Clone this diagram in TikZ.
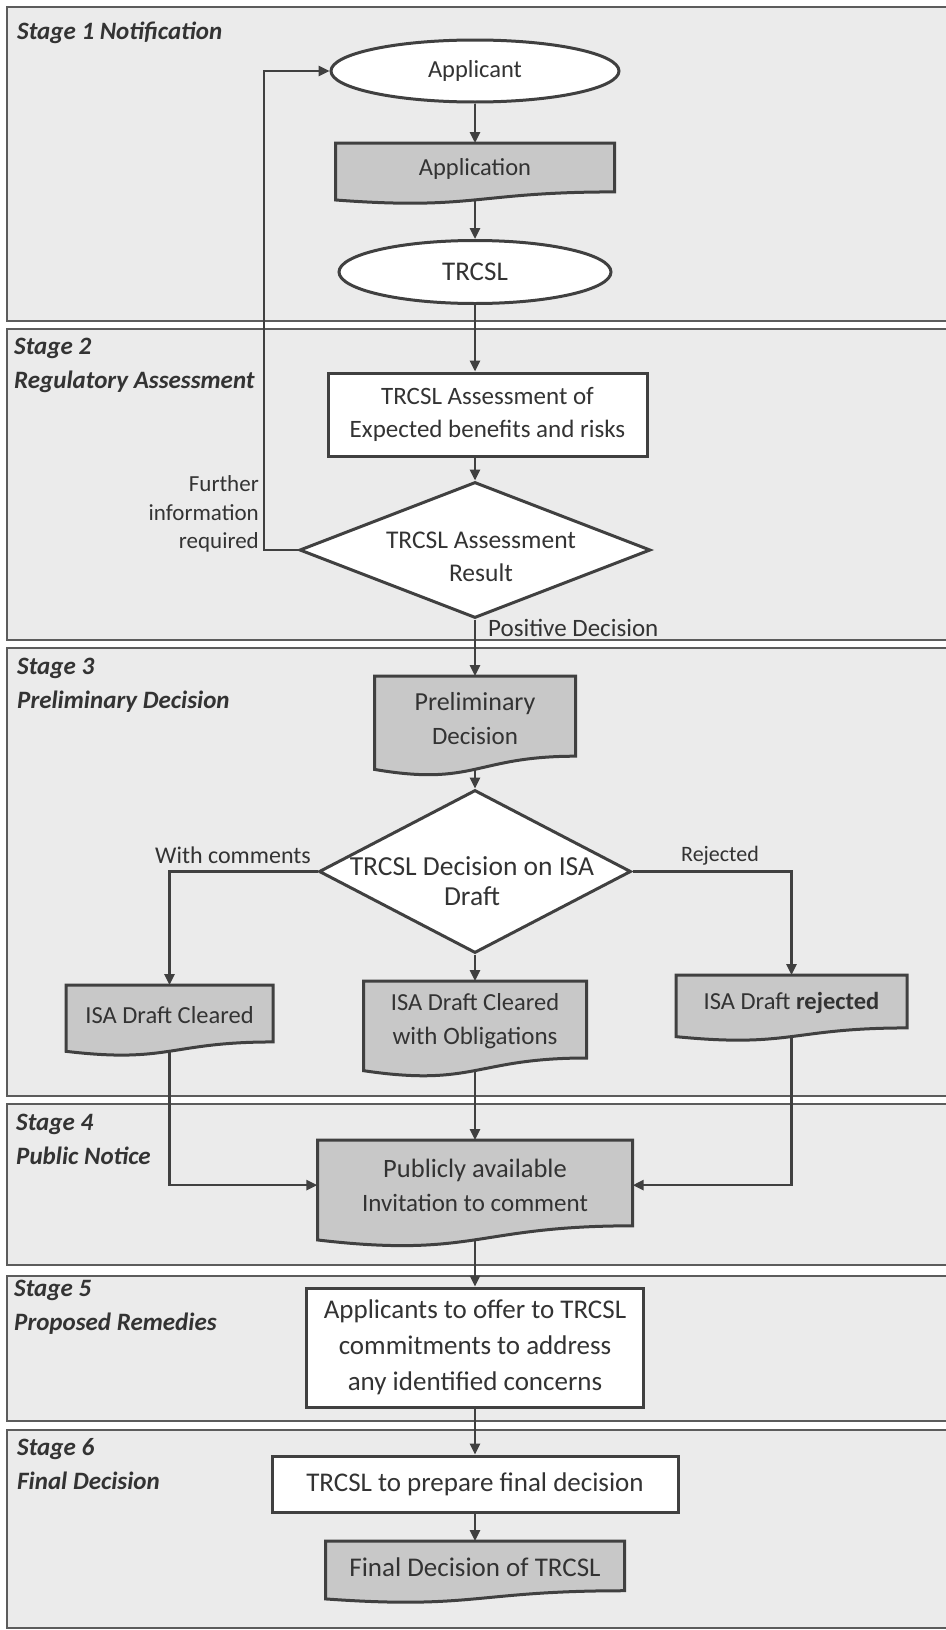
\documentclass[tikz,border=0pt]{standalone}
\usepackage{fontspec}
\setmainfont{Carlito}
\usetikzlibrary{shapes.geometric,arrows.meta,calc}
\pgfdeclarelayer{panels}
\pgfdeclarelayer{conns}
\pgfdeclarelayer{docs}
\pgfsetlayers{panels,conns,docs,main}
\definecolor{linec}{HTML}{404040}
\definecolor{panelfill}{HTML}{EBEBEB}
\definecolor{panelline}{HTML}{5C5C5C}
\definecolor{docfill}{HTML}{C8C8C8}
\definecolor{txtc}{HTML}{333333}
\tikzset{
  base/.style={font=\fontsize{25}{34}\selectfont, text=txtc, align=center, inner sep=2pt},
  terminal/.style={base, ellipse, draw=linec, line width=3pt, fill=white, inner sep=0pt},
  procbox/.style={base, rectangle, draw=linec, line width=3pt, fill=white},
  decision/.style={base, diamond, draw=linec, line width=3pt, fill=white, inner sep=0pt},
  doctext/.style={base, rectangle, draw=none, fill=none},
  docshape/.style={fill=docfill, draw=linec, line width=3pt, line join=miter},
  conn/.style={draw=linec, line width=2.6pt, -{Triangle[length=11pt,width=10pt]}},
  edgelabel/.style={font=\fontsize{24}{28.5}\selectfont, text=txtc, inner sep=0pt},
  stagelabel/.style={font=\fontsize{25}{34}\selectfont\bfseries\itshape, text=txtc, align=left, inner sep=0pt, anchor=north west},
  panel/.style={fill=panelfill, draw=panelline, line width=2.5pt},
}
% #1 name, #2 left x, #3 top y, #4 width, #5 full height, #6 text
\newcommand{\docnode}[6]{%
  \node[doctext, minimum width=#4pt, minimum height={0.84*#5pt}, anchor=north] (#1) at ({#2+#4/2},#3) {#6};
  \begin{pgfonlayer}{docs}
  \path[docshape] (#2,#3) -- ({#2+#4},#3) -- ({#2+#4},{#3+0.802*#5})
     .. controls ({#2+0.5*#4},{#3+0.802*#5}) and ({#2+0.5*#4},{#3+1.107*#5}) .. (#2,{#3+0.934*#5}) -- cycle;
  \end{pgfonlayer}}
\newcommand{\fs}[2]{\fontsize{#1}{#2}\selectfont}
\begin{document}
\begin{tikzpicture}[x=1pt,y=-1pt]
\useasboundingbox (0,0) rectangle (945,1630);
\begin{pgfonlayer}{panels}
  \fill[white] (0,0) rectangle (945,1630);
  \path[panel] (7,7) rectangle (955,321);
  \path[panel] (7,329) rectangle (955,640);
  \path[panel] (7,648) rectangle (955,1096);
  \path[panel] (7,1104) rectangle (955,1265);
  \path[panel] (7,1276) rectangle (955,1421);
  \path[panel] (7,1430) rectangle (955,1628);
\end{pgfonlayer}

% stage titles
\node[stagelabel] (t1) at (17,22) {Stage 1 Notification};
\node[stagelabel] (t2) at (14,338) {Stage 2\\Regulatory Assessment};
\node[stagelabel] (t3) at (17,658) {Stage 3\\Preliminary Decision};
\node[stagelabel] (t4) at (16,1114) {Stage 4\\Public Notice};
\node[stagelabel] (t5) at (14,1280) {Stage 5\\Proposed Remedies};
\node[stagelabel] (t6) at (17,1438) {Stage 6\\Final Decision};

% stage 1
\node[terminal, minimum width=288pt, minimum height=62pt, font=\fs{24.5}{30}] (app) at (475,71) {Applicant};
\docnode{appl}{335.5}{143}{279}{61}{\fs{24.5}{30}Application}
\node[terminal, minimum width=272pt, minimum height=63pt, font=\fs{27}{30}] (trcsl) at (475,272) {TRCSL};

% stage 2
\node[procbox, minimum width=319pt, minimum height=83pt, font=\fs{25}{33}] (assess) at (487.5,414.5)
  {TRCSL Assessment of\\Expected benefits and risks};
\node[decision, minimum width=351pt, minimum height=136pt,
  label={[base, font=\fs{25.5}{33}, xshift=6pt, yshift=-7pt]center:{TRCSL Assessment\\Result}}] (dia1) at (475,550) {};
\node[edgelabel, font=\fs{23}{28.5}, align=right, anchor=east] (further) at (259,514) {Further\\information\\required};
\node[edgelabel, font=\fs{25}{30}, anchor=west] (positive) at (488,628) {Positive Decision};

% stage 3
\docnode{pre}{374.5}{676}{201}{100}{\fs{26}{35}Preliminary\\Decision}
\node[decision, minimum width=312pt, minimum height=163pt,
  label={[base, font=\fs{27.5}{30}, xshift=-3pt, yshift=-10pt]center:{TRCSL Decision on ISA\\Draft}}] (dia2) at (475,871.5) {};
\node[edgelabel] (withc) at (233,855) {With comments};
\node[edgelabel, font=\fs{22}{28}] (rejl) at (720,856) {Rejected};
\docnode{clr}{66}{985}{207}{71}{\fs{24.5}{30}ISA Draft Cleared}
\docnode{obl}{363.5}{981}{223}{96}{\fs{24.5}{32}ISA Draft Cleared\\with Obligations}
\docnode{rej}{676}{975}{231}{66}{\fs{24.5}{30}ISA Draft \textbf{rejected}}

% stage 4
\docnode{pub}{317.5}{1140}{315}{107}{\fs{26.5}{36}Publicly available\\Invitation to comment}

% stage 5
\node[procbox, minimum width=337pt, minimum height=119pt, font=\fs{27}{36}] (rem) at (475,1347.5)
  {Applicants to offer to TRCSL\\commitments to address\\any identified concerns};

% stage 6
\node[procbox, minimum width=406pt, minimum height=56pt, font=\fs{27}{30}] (prep) at (475,1484) {TRCSL to prepare final decision};
\docnode{fin}{325.5}{1541}{299}{62}{\fs{27}{30}Final Decision of TRCSL}

% connectors
\begin{pgfonlayer}{conns}
\draw[conn] (app.south) -- (appl.north);
\draw[conn] (appl.south) -- (trcsl.north);
\draw[conn] (trcsl.south) -- (trcsl.south |- assess.north);
\draw[conn] (assess.south -| dia1.north) -- (dia1.north);
\draw[conn] (dia1.west) -- ++(-34,0) |- (app.west);
\draw[conn] (dia1.south) -- (pre.north);
\draw[conn] (pre.south) -- (dia2.north);
\draw[conn] (dia2.west) -| (clr.north);
\draw[conn] (dia2.south) -- (obl.north);
\draw[conn] (dia2.east) -| (rej.north);
\draw[conn] (clr.south) |- (pub.west);
\draw[conn] (obl.south) -- (pub.north);
\draw[conn] (rej.south) |- (pub.east);
\draw[conn] (pub.south) -- (rem.north);
\draw[conn] (rem.south) -- (prep.north);
\draw[conn] (prep.south) -- (fin.north);
\end{pgfonlayer}
\end{tikzpicture}
\end{document}
